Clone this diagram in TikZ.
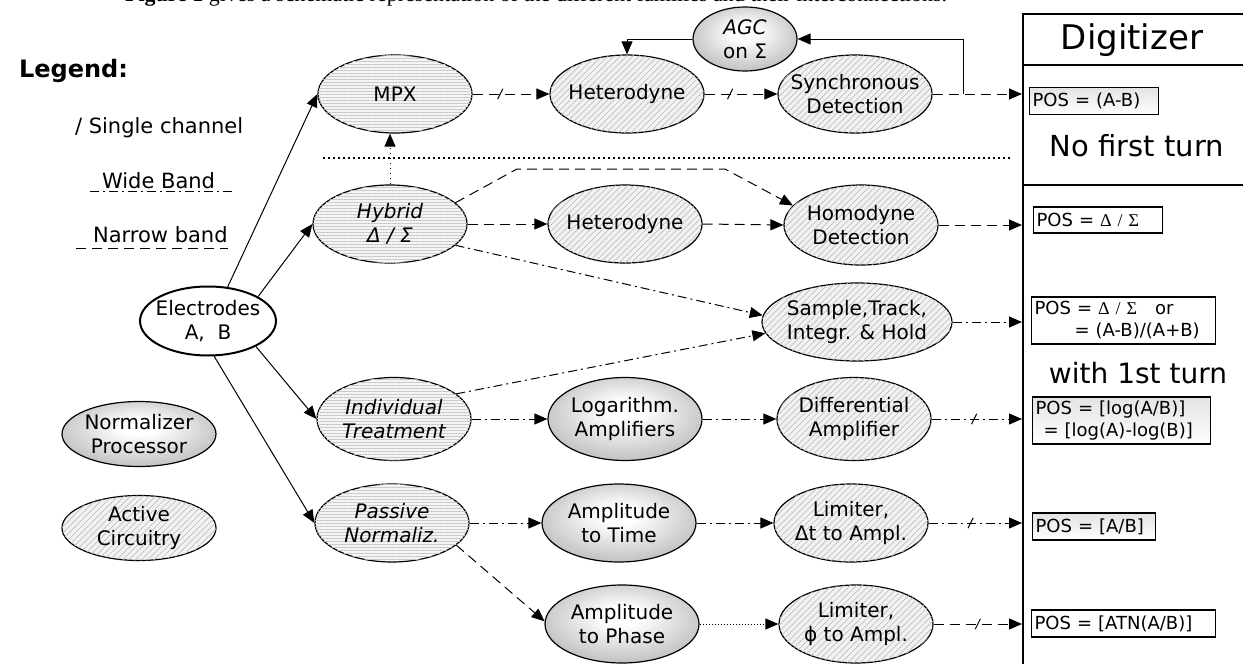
\documentclass[tikz,border=0pt]{standalone}
\usepackage{fontspec}
\setmainfont{DejaVu Sans}
\newfontfamily\capfont{Liberation Serif}
\usetikzlibrary{arrows.meta,shapes.geometric,patterns.meta,decorations.markings}
\pgfdeclareradialshading{glow}{\pgfpoint{0bp}{6bp}}{color(0bp)=(white); color(6bp)=(white); color(32bp)=(gray!58); color(50bp)=(gray!68)}

\begin{document}
\begin{tikzpicture}[
  x=0.5pt, y=-0.5pt,
  font=\fontsize{10}{12}\selectfont,
  oval/.style={ellipse, draw, line width=.6pt, inner sep=0pt,
               minimum width=77pt, minimum height=39pt},
  texture/.style={oval, fill=gray!8,
    postaction={pattern={Lines[angle=0,distance=1.5pt,line width=.25pt]},
                pattern color=gray!45}},
  hatch/.style={oval, fill=gray!10,
    postaction={pattern={Lines[angle=45,distance=2.2pt,line width=.35pt]},
                pattern color=gray!50}},
  shaded/.style={oval, shading=glow},
  every label/.style={align=center, inner sep=0pt},
  arrow/.style={-{Triangle[length=6.5pt,width=5.5pt]}, line width=.5pt},
  narrow/.style={arrow, dash pattern=on 5pt off 3pt},
  wide/.style={arrow, dash pattern=on 4.5pt off 2pt on 1pt off 2pt},
  slash/.style={postaction={decorate, decoration={markings,
    mark=at position #1 with {\draw[solid,-,line width=.5pt] (-1.3pt,-2.6pt) -- (1.3pt,2.6pt);}}}},
  posbox/.style={draw, line width=.6pt, anchor=west, align=left,
                 inner sep=1.5pt, font=\fontsize{9}{11}\selectfont},
  gradfill/.style={top color=gray!22, bottom color=white},
  frame/.style={line width=1pt}
]
\useasboundingbox (0,0) rectangle (1243,664);

% text line above the figure (cut by the page edge)
\node[anchor=base west, font=\capfont\fontsize{11}{13}\selectfont] (caption) at (118,1.5)
  {\textbf{Figure 1} gives a schematic representation of the different families and their interconnections.};

% legend
\node[anchor=west, font=\bfseries\fontsize{12}{14}\selectfont] (legend) at (12,71) {Legend:};
\node[anchor=west, font=\fontsize{10.5}{12}\selectfont] (single) at (68,128) {/ Single channel};
\node[anchor=west, font=\fontsize{10.5}{12}\selectfont] (wideband) at (95,181) {Wide Band};
\node[anchor=west, font=\fontsize{10.5}{12}\selectfont] (narrowband) at (86,235) {Narrow band};
\draw[line width=.5pt, dash pattern=on 4.5pt off 2pt on 1pt off 2pt] (90,191) -- (232,191);
\draw[line width=.5pt, dash pattern=on 5pt off 3pt] (76,248) -- (228,248);
\node[shaded, minimum height=32.5pt, label={center:{Normalizer\\Processor}}] (norm) at (139,434) {};
\node[hatch, minimum height=32.5pt, label={center:{Active\\Circuitry}}] (active) at (139,528) {};

% source
\node[oval, fill=white, line width=1pt, minimum width=68pt, minimum height=34.5pt,
      label={center:{Electrodes\\A,\ \ B}}] (elec) at (208,321) {};

% first column
\node[texture, label={center:MPX}] (mpx) at (395,94) {};
\node[texture, label={[font=\itshape]center:{Hybrid\\Δ / Σ}}] (hyb) at (390,224) {};
\node[texture, minimum height=41.5pt, label={[font=\itshape]center:{Individual\\Treatment}}] (indiv) at (394,419) {};
\node[texture, label={[font=\itshape]center:{Passive\\Normaliz.}}] (passive) at (392,523) {};

% second column
\node[hatch, label={center:Heterodyne}] (het1) at (627,94) {};
\node[shaded, minimum width=52pt, minimum height=32pt,
      label={center:{\textit{AGC}\\on Σ}}] (agc) at (745,39) {};
\node[hatch, label={center:Heterodyne}] (het2) at (625,224) {};
\node[shaded, minimum height=41.5pt, label={center:{Logarithm.\\Amplifiers}}] (logamp) at (625,419) {};
\node[shaded, label={center:{Amplitude\\to Time}}] (amptime) at (619,523) {};
\node[shaded, label={center:{Amplitude\\to Phase}}] (ampph) at (622,624) {};

% third column
\node[hatch, label={center:{Synchronous\\Detection}}] (sync) at (855,94) {};
\node[hatch, minimum height=40pt, label={center:{Homodyne\\Detection}}] (homo) at (861,225) {};
\node[hatch, minimum width=95pt, label={center:{Sample,Track,\\Integr. \& Hold}}] (samp) at (857,322) {};
\node[hatch, minimum height=41.5pt, label={center:{Differential\\Amplifier}}] (diff) at (854,419) {};
\node[hatch, label={center:{Limiter,\\Δt to Ampl.}}] (limt) at (851,523) {};
\node[hatch, label={center:{Limiter,\\ϕ to Ampl.}}] (limp) at (856,624) {};

% digitizer
\node[draw, frame, anchor=north west, inner sep=0pt,
      minimum width=125pt, minimum height=340pt] (dig) at (1022,13) {};
\draw[frame] (1022,65) -- (1260,65);
\draw[frame] (1022,185) -- (1260,185);
\node[font=\fontsize{17}{20}\selectfont] (digtitle) at (1132,40) {Digitizer};
\node[font=\fontsize{14.5}{17}\selectfont] (noturn) at (1137,146) {No first turn};
\node[font=\fontsize{14}{17}\selectfont] (withturn) at (1138,373) {with 1st turn};
\node[posbox, gradfill, text width=61.5pt, minimum height=13.5pt] (pos1) at (1029,101) {POS = (A-B)};
\node[posbox, text width=61.5pt, minimum height=13pt] (pos2) at (1033,220) {POS = {\capfont Δ / Σ}};
\node[posbox, text width=89pt, minimum height=23.5pt] (pos3) at (1031,320.5)
  {POS = {\capfont Δ / Σ}\quad or\\\hspace*{20pt}= (A-B)/(A+B)};
\node[posbox, gradfill, text width=86pt, minimum height=23.5pt] (pos4) at (1032,420.5)
  {POS = [log(A/B)]\\\hspace*{4pt}= [log(A)-log(B)]};
\node[posbox, gradfill, text width=58.5pt, minimum height=13.5pt] (pos5) at (1032,526.5) {POS = [A/B]};
\node[posbox, text width=89pt, minimum height=13.5pt] (pos6) at (1031,623.5) {POS = [ATN(A/B)]};

% separator
\draw[line width=1pt, dash pattern=on 1pt off 1.5pt] (323,158) -- (1010,158);

% connectors
\draw[arrow] (elec.60) -- (mpx.west);
\draw[arrow] (elec.26) -- (hyb.west);
\draw[arrow] (elec.-28) -- (indiv.west);
\draw[arrow] (elec.-80) -- (passive.west);

\draw[narrow, slash=.36] (mpx.east) -- (het1.west);
\draw[narrow, slash=.35] (het1.east) -- (sync.west);
\draw[narrow] (sync.east) -- (sync.east -| dig.west);
\coordinate (tap) at (963,94);
\draw[arrow] (tap) |- (agc.east);
\draw[arrow] (agc.west) -| (het1.north);

\draw[arrow, dotted] (hyb.north) -- (hyb.north |- mpx.south);
\draw[narrow] (hyb.east) -- (het2.west);
\draw[narrow] (het2.east) -- (homo.west);
\draw[narrow] (homo.east) -- (homo.east -| dig.west);
\coordinate (bend1) at (517,169);
\coordinate (bend2) at (725,169);
\draw[narrow] (hyb.18) -- (bend1) -- (bend2) -- (homo.164);

\draw[wide] (hyb.-18) -- (samp.176);
\draw[wide] (indiv.22) -- (samp.187);
\draw[wide] (samp.east) -- (samp.east -| dig.west);

\draw[wide] (indiv.east) -- (logamp.west);
\draw[wide] (logamp.east) -- (diff.west);
\draw[wide, slash=.47] (diff.east) -- (diff.east -| dig.west);

\draw[wide] (passive.east) -- (amptime.west);
\draw[wide] (amptime.east) -- (limt.west);
\draw[wide, slash=.45] (limt.east) -- (limt.east -| dig.west);

\draw[narrow] (passive.-19) -- (ampph.178);
\draw[arrow, densely dotted] (ampph.east) -- (limp.west);
\draw[narrow, slash=.5] (limp.east) -- (limp.east -| dig.west);
\end{tikzpicture}
\end{document}
